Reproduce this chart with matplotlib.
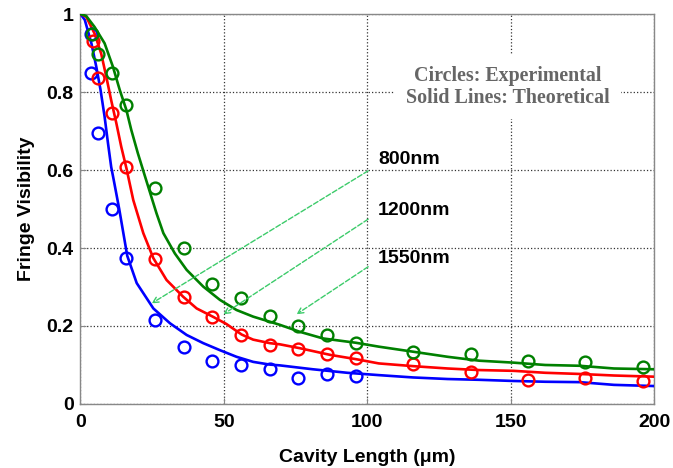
import numpy as np
import matplotlib
matplotlib.use("Agg")
import matplotlib.pyplot as plt

# experimental points (circles)
blue_px = [3.8, 3.8, 6, 11, 16, 26, 36, 46, 56, 66, 76, 86, 96]
blue_py = [0.95, 0.848, 0.695, 0.50, 0.375, 0.215, 0.147, 0.11, 0.10, 0.089, 0.066, 0.077, 0.072]
red_px = [4.4, 6, 11, 16, 26, 36, 46, 56, 66, 76, 86, 96, 116, 136, 156, 176, 196]
red_py = [0.93, 0.835, 0.745, 0.607, 0.373, 0.275, 0.224, 0.176, 0.151, 0.140, 0.127, 0.117,
          0.103, 0.083, 0.062, 0.066, 0.060]
green_px = [4, 6, 11, 16, 26, 36, 46, 56, 66, 76, 86, 96, 116, 136, 156, 176, 196]
green_py = [0.95, 0.897, 0.848, 0.767, 0.555, 0.400, 0.308, 0.271, 0.226, 0.201, 0.177, 0.157,
            0.134, 0.127, 0.110, 0.108, 0.096]

# theoretical curves (solid lines)
blue_lx = [0, 1.5, 3.8, 5.5, 7.0, 8.4, 9.6, 10.7, 11.6, 13.5, 16.3, 19.6, 25.4, 31.2, 37, 42.8,
           48.6, 54.4, 60.2, 66, 69.5, 81, 93, 104, 116, 128, 139, 151, 162, 174, 186, 200]
blue_ly = [1.0, 0.985, 0.925, 0.865, 0.805, 0.737, 0.668, 0.608, 0.574, 0.50, 0.38, 0.31, 0.245,
           0.207, 0.177, 0.156, 0.138, 0.121, 0.108, 0.101, 0.099, 0.089, 0.080, 0.074, 0.068,
           0.064, 0.062, 0.059, 0.057, 0.056, 0.049, 0.046]
red_lx = [0, 2, 4.9, 7.2, 9.0, 10.7, 12.5, 14.2, 16, 18.4, 21.9, 25.4, 30, 35.8, 40.5, 46.1, 50.9,
          56.2, 60.2, 66, 69.5, 76.5, 87, 96, 104, 116, 128, 139, 151, 162, 174, 186, 200]
red_ly = [1.0, 0.993, 0.95, 0.899, 0.839, 0.779, 0.72, 0.66, 0.605, 0.523, 0.438, 0.374, 0.318,
          0.275, 0.245, 0.224, 0.205, 0.178, 0.165, 0.156, 0.153, 0.143, 0.126, 0.115, 0.104,
          0.097, 0.091, 0.087, 0.085, 0.080, 0.077, 0.073, 0.070]
green_lx = [0, 2, 4.9, 8.4, 11.3, 13.7, 16, 17.7, 20, 22.9, 26.5, 28.9, 32.9, 37, 42.8, 48.6,
            54.4, 60.2, 66, 69.5, 76.5, 84.6, 96, 104, 116, 128, 139, 151, 162, 174, 186, 200]
green_ly = [1.0, 0.995, 0.967, 0.925, 0.865, 0.805, 0.754, 0.703, 0.643, 0.574, 0.489, 0.438,
            0.386, 0.344, 0.301, 0.267, 0.241, 0.224, 0.211, 0.203, 0.185, 0.168, 0.157, 0.147,
            0.134, 0.121, 0.111, 0.106, 0.100, 0.098, 0.091, 0.089]

labels = ["800nm", "1200nm", "1550nm"]
label_y = [0.626, 0.497, 0.374]
arrow_from = [(100.3, 0.598), (100.3, 0.474), (100.3, 0.352)]
arrow_to = [(24.8, 0.258), (49.8, 0.230), (75.3, 0.230)]

plt.rcParams['font.family'] = ['Liberation Sans', 'DejaVu Sans']

fig = plt.figure(figsize=(6.73, 4.68), dpi=100)
ax = fig.add_axes([0.1196, 0.1368, 0.8524, 0.8332])

blue, red, green = "#0000ff", "#ff0000", "#008000"
lw = 1.9
ax.plot(blue_lx, blue_ly, color=blue, lw=lw, zorder=3)
ax.plot(red_lx, red_ly, color=red, lw=lw, zorder=3)
ax.plot(green_lx, green_ly, color=green, lw=lw, zorder=3)
ms = 8.5
for xs, ys, c in [(blue_px, blue_py, blue), (red_px, red_py, red), (green_px, green_py, green)]:
    ax.plot(xs, ys, 'o', mfc='none', mec=c, ms=ms, mew=1.7, zorder=4)

for lab, ly, a0, a1 in zip(labels, label_y, arrow_from, arrow_to):
    ax.text(103.7, ly, lab, fontsize=14, fontweight='bold', ha='left', va='center', zorder=5)
    ax.annotate("", xy=a1, xytext=a0,
                arrowprops=dict(arrowstyle='->', color='#3ccb6a', lw=1.0, ls='--',
                                shrinkA=0, shrinkB=0), zorder=5)

ax.text(149, 0.813, "Circles: Experimental\nSolid Lines: Theoretical", fontsize=14.4,
        fontweight='bold', family='Liberation Serif', color='#666666', ha='center', va='center',
        linespacing=1.15, zorder=5,
        bbox=dict(facecolor='white', edgecolor='none', pad=8))

ax.set_xlim(0, 200)
ax.set_ylim(0, 1)
ax.set_xticks([0, 50, 100, 150, 200])
ax.set_yticks([0, 0.2, 0.4, 0.6, 0.8, 1])
ax.set_yticklabels(["0", "0.2", "0.4", "0.6", "0.8", "1"])
ax.grid(True, ls=':', color='#333333', lw=0.9)
ax.tick_params(direction='in', length=4, color='#888888', labelsize=14)
ax.tick_params(axis='x', pad=7)
ax.tick_params(axis='y', pad=5)
for t in ax.get_xticklabels() + ax.get_yticklabels():
    t.set_fontweight('bold')
for s in ax.spines.values():
    s.set_color('#888888')
    s.set_linewidth(1.0)

ax.set_xlabel("Cavity Length (\u03bcm)", fontsize=14, fontweight='bold', labelpad=13)
ax.set_ylabel("Fringe Visibility", fontsize=14, fontweight='bold', labelpad=8)

fig.savefig("out.png", dpi=100)
